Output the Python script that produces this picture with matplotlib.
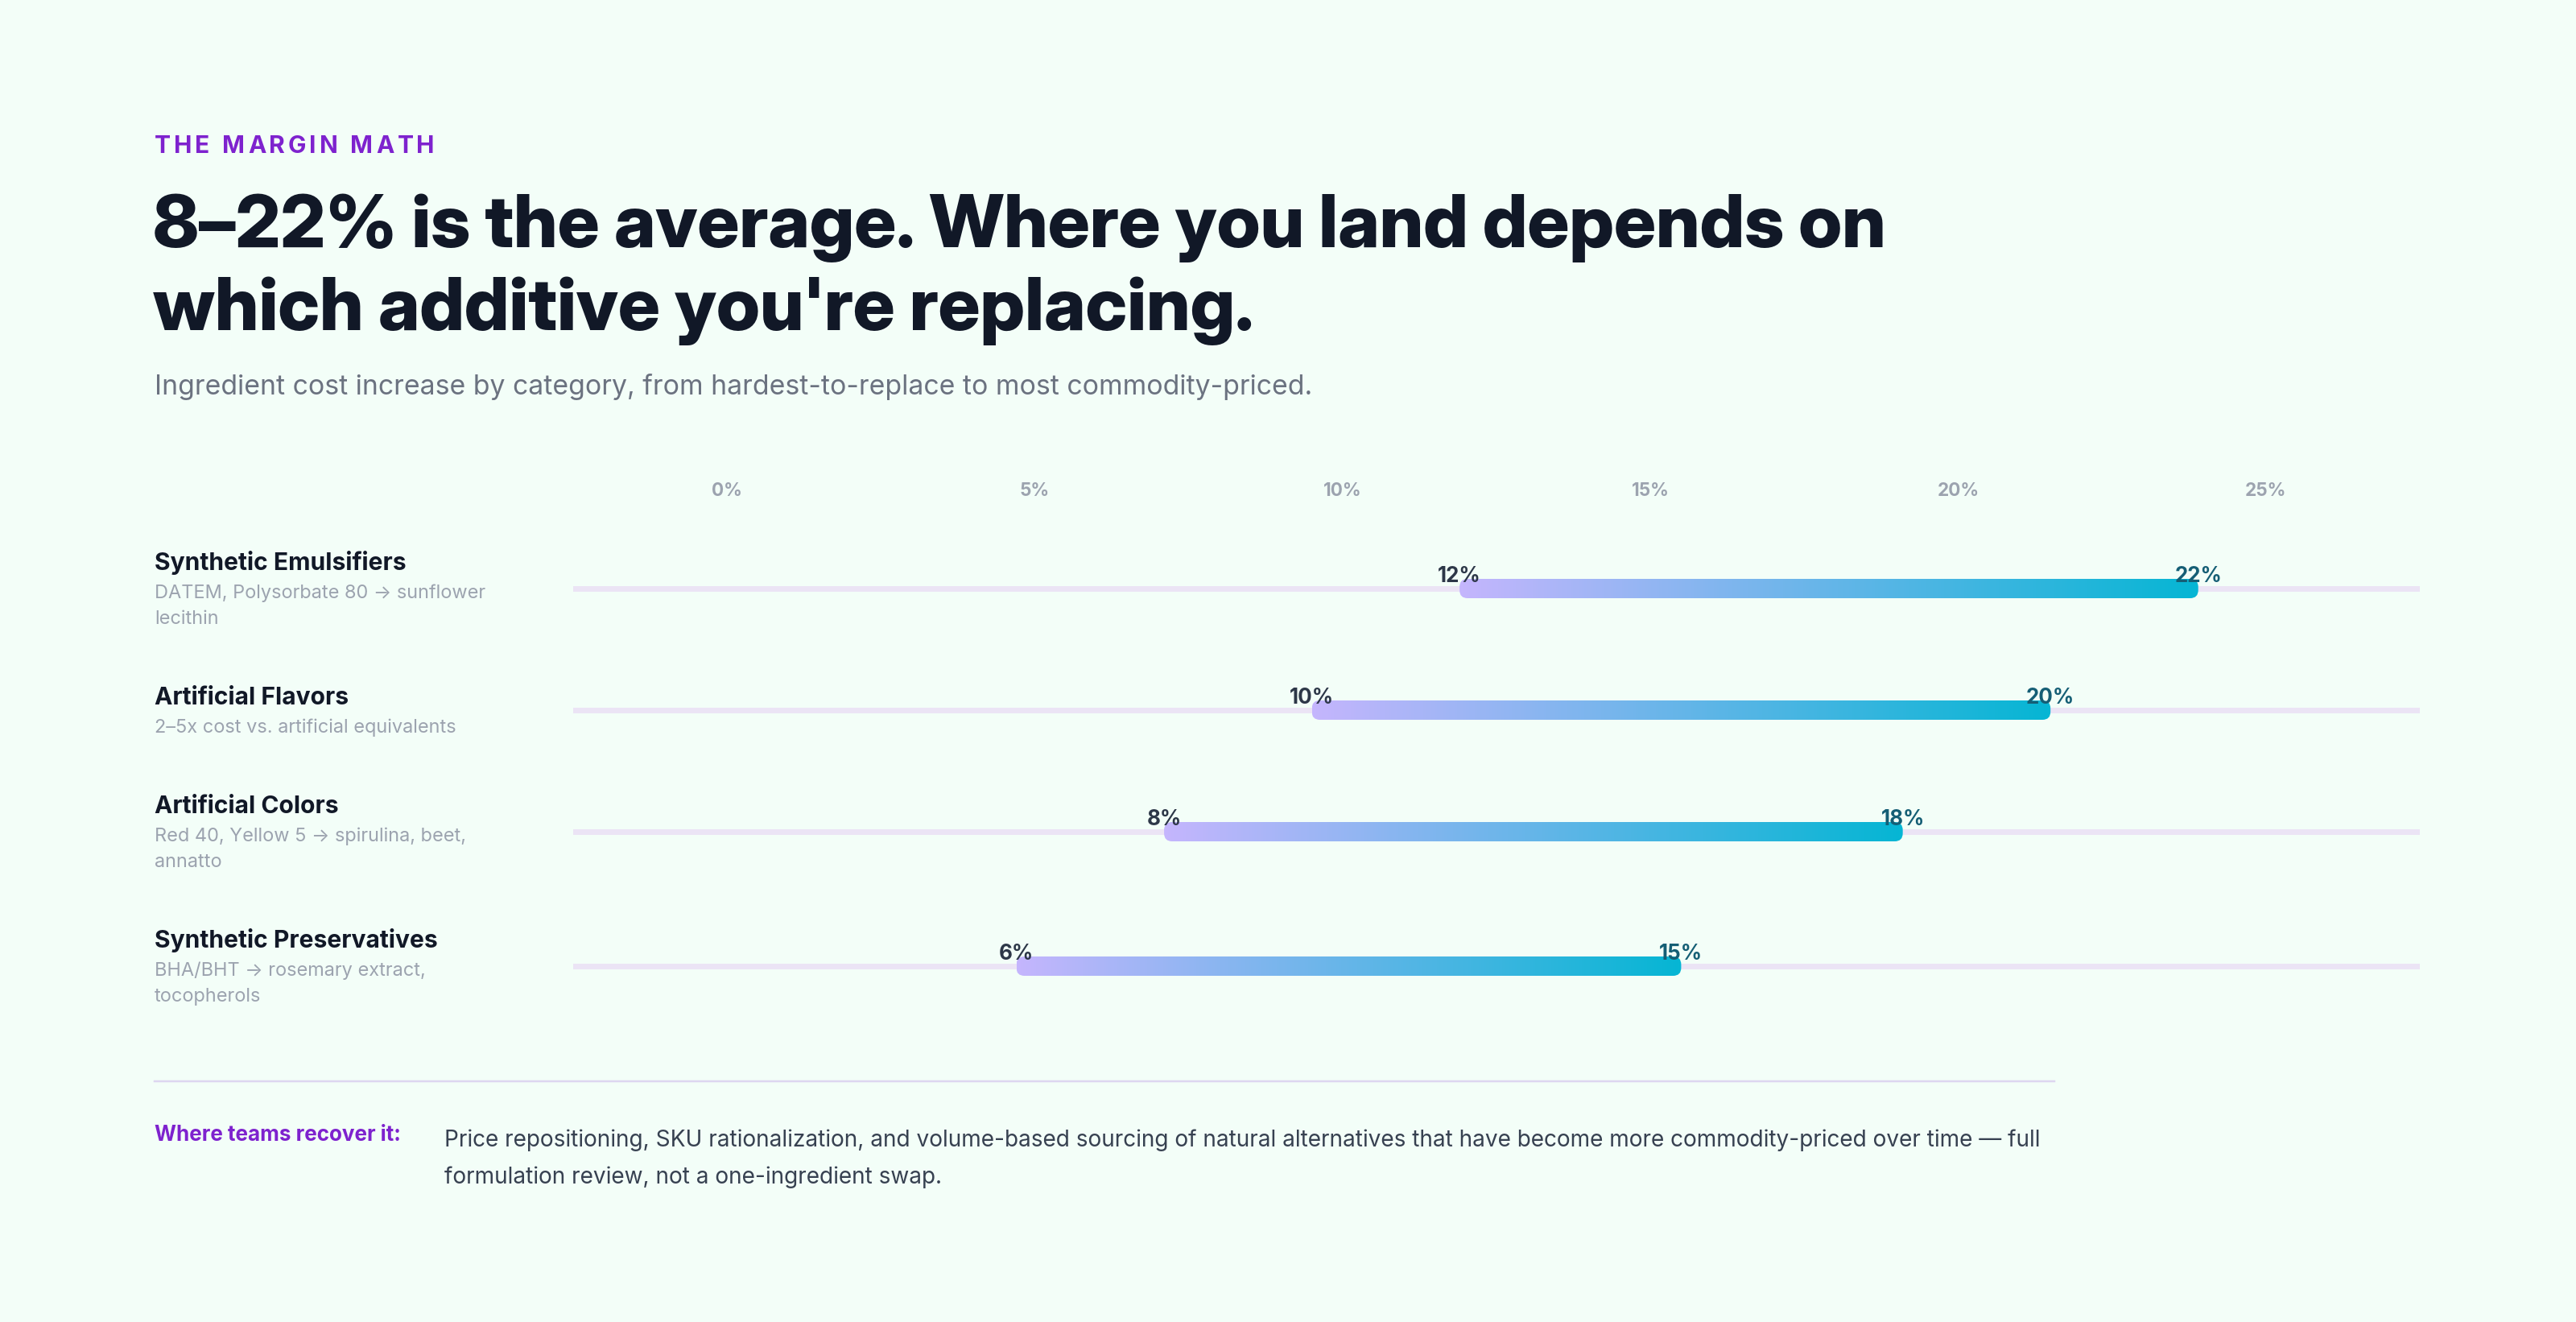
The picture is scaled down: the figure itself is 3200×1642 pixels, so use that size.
import numpy as np
import matplotlib
matplotlib.use("Agg")
import matplotlib.pyplot as plt
from matplotlib.patches import FancyBboxPatch
from matplotlib.colors import LinearSegmentedColormap

# data
categories = ["Synthetic Emulsifiers", "Artificial Flavors", "Artificial Colors", "Synthetic Preservatives"]
details = [["DATEM, Polysorbate 80 \u2192 sunflower", "lecithin"],
           ["2\u20135x cost vs. artificial equivalents"],
           ["Red 40, Yellow 5 \u2192 spirulina, beet,", "annatto"],
           ["BHA/BHT \u2192 rosemary extract,", "tocopherols"]]
low = [12, 10, 8, 6]
high = [22, 20, 18, 15]
tick_labels = ["0%", "5%", "10%", "15%", "20%", "25%"]
x_max = 25

eyebrow = "THE MARGIN MATH"
title_lines = ["8\u201322% is the average. Where you land depends on",
               "which additive you're replacing."]
subtitle = "Ingredient cost increase by category, from hardest-to-replace to most commodity-priced."
foot_label = "Where teams recover it:"
foot_lines = ["Price repositioning, SKU rationalization, and volume-based sourcing of natural alternatives "
              "that have become more commodity-priced over time \u2014 full",
              "formulation review, not a one-ingredient swap."]

W, H = 3200, 1642
DPI = 200
BG = "#f3fef8"
PT = 72 / DPI  # px -> pt

plt.rcParams['font.family'] = ['Inter', 'DejaVu Sans']

fig = plt.figure(figsize=(W / DPI, H / DPI), dpi=DPI, facecolor=BG)


def fx(x):
    return x / W


def fy(y):
    return 1 - y / H


# eyebrow with letter spacing
renderer = fig.canvas.get_renderer()
x = 192
fs = 30 * PT
gap = 3.8
for ch in eyebrow:
    if ch == " ":
        x += 30 * 0.28 + gap
        continue
    t = fig.text(fx(x), fy(190), ch, fontsize=fs, fontweight="bold", color="#7e22ce", va="baseline")
    x += t.get_window_extent(renderer).width + gap

for k, line in enumerate(title_lines):
    fig.text(fx(190), fy(307 + 103 * k), line, fontsize=91 * PT, family=["Inter Display", "Inter"],
             fontweight="heavy", color="#111827", va="baseline")
fig.text(fx(192), fy(490), subtitle, fontsize=33.8 * PT, color="#6b7280", va="baseline")

# chart area: x in %, y in pixels from top
left_px, right_px = 712, 3006
ax = fig.add_axes([fx(left_px), 0, fx(right_px - left_px), 1])
ax.set_facecolor("none")
ax.axis("off")
px_per_unit = (right_px - left_px) / x_max

cmap = LinearSegmentedColormap.from_list("bar", ["#c4b5fd", "#06b6d4"])
grad = np.linspace(0, 1, 256).reshape(1, -1)

for i, lab in enumerate(tick_labels):
    ax.text((i + 0.5) * x_max / len(tick_labels), 616, lab, ha="center", va="baseline",
            fontsize=22.5 * PT, fontweight="bold", color="#9ca3af")

# row layout from the number of text lines
y = 681
bar_h = 24
for cat, det, lo, hi in zip(categories, details, low, high):
    n = len(det)
    row_h = 36 + 32 * n
    c = y + row_h / 2
    # left labels
    top = c - 23 + (16 if n == 1 else 0)
    fig.text(fx(192), fy(top), cat, fontsize=30 * PT, fontweight="bold", color="#111827", va="baseline")
    for k, line in enumerate(det):
        fig.text(fx(192), fy(top + 35 + 32 * k), line, fontsize=23.5 * PT, color="#9ca3af", va="baseline")
    # track
    ax.plot([0, x_max], [c, c], color="#ebe4f5", lw=7 * PT, solid_capstyle="round", zorder=1)
    # bar
    r = 10 / px_per_unit
    patch = FancyBboxPatch((lo, c - bar_h / 2), hi - lo, bar_h,
                           boxstyle=f"round,pad=0,rounding_size={r}",
                           mutation_aspect=px_per_unit, fc="none", ec="none", zorder=2)
    ax.add_patch(patch)
    im = ax.imshow(grad, cmap=cmap, extent=(lo, hi, c + bar_h / 2, c - bar_h / 2),
                   aspect="auto", interpolation="bicubic", zorder=2)
    im.set_clip_path(patch)
    ax.text(lo, c - 8, f"{lo}%", ha="center", va="baseline", fontsize=26 * PT,
            fontweight="bold", color="#2d3748", zorder=3)
    ax.text(hi, c - 8, f"{hi}%", ha="center", va="baseline", fontsize=26 * PT,
            fontweight="bold", color="#155e75", zorder=3)
    y += row_h + 67

ax.set_xlim(0, x_max)
ax.set_ylim(H, 0)

# divider and footer
fig.add_artist(plt.Line2D([fx(192), fx(2552)], [fy(1343), fy(1343)], color="#ddd6f0", lw=2.5 * PT))
fig.text(fx(192), fy(1417), foot_label, fontsize=26 * PT, fontweight="bold", color="#7e22ce", va="baseline")
for k, line in enumerate(foot_lines):
    fig.text(fx(552), fy(1424 + 46 * k), line, fontsize=28 * PT, color="#374151", va="baseline")

fig.savefig("out.png", dpi=DPI, facecolor=BG)
